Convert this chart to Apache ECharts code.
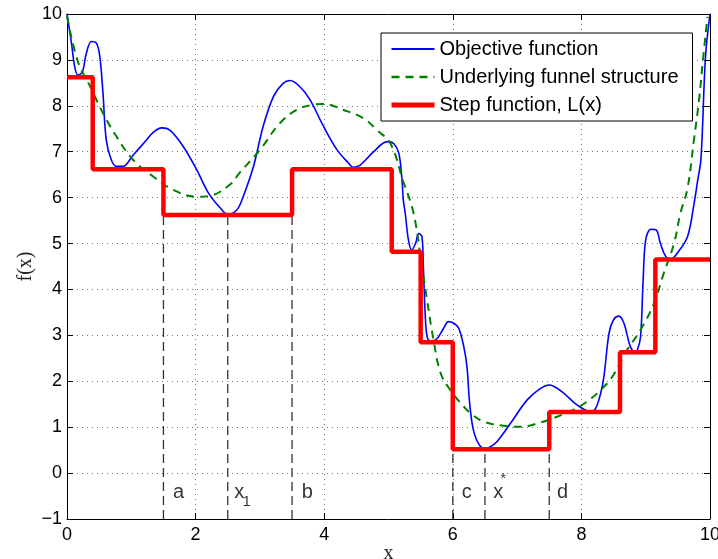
<!DOCTYPE html>
<html><head><meta charset="utf-8">
<script src="https://cdn.jsdelivr.net/npm/echarts@6/dist/echarts.min.js"></script>
<style>html,body{margin:0;padding:0;background:#fff}#c{width:718px;height:559px}</style>
</head><body><div id="c"></div><script>
// Objective function (blue)
const objX = [0.00,0.07,0.12,0.17,0.24,0.30,0.38,0.46,0.51,0.56,0.61,0.69,0.77,0.87,1.03,1.24,1.34,1.47,1.60,1.81,2.02,2.20,2.38,2.50,2.64,2.72,2.90,3.05,3.21,3.36,3.47,3.62,3.78,3.99,4.20,4.38,4.45,4.56,4.77,4.98,5.08,5.16,5.21,5.23,5.26,5.31,5.36,5.42,5.47,5.52,5.54,5.57,5.60,5.65,5.75,5.86,5.93,6.01,6.09,6.17,6.22,6.26,6.31,6.37,6.45,6.50,6.58,6.69,6.90,7.16,7.37,7.50,7.69,7.90,8.05,8.13,8.21,8.30,8.35,8.43,8.50,8.58,8.66,8.76,8.83,8.87,8.92,8.96,9.00,9.08,9.16,9.23,9.31,9.39,9.49,9.65,9.75,9.81,9.86,9.93,10.0];
const objY = [10.0,9.36,8.85,8.67,8.74,9.14,9.40,9.36,9.07,8.27,7.26,6.82,6.68,6.68,6.93,7.26,7.42,7.52,7.47,7.11,6.60,6.10,5.78,5.63,5.73,5.95,6.68,7.55,8.20,8.49,8.55,8.42,8.13,7.55,7.04,6.75,6.66,6.71,7.00,7.22,7.18,6.97,6.39,5.95,5.66,5.08,4.86,5.00,5.22,5.15,4.57,3.48,2.97,2.88,2.92,3.16,3.30,3.27,3.16,2.76,2.32,1.55,1.00,0.72,0.55,0.53,0.57,0.69,1.09,1.60,1.85,1.92,1.78,1.52,1.38,1.35,1.38,1.74,2.10,3.05,3.34,3.42,3.27,2.76,2.65,2.68,2.97,4.19,5.08,5.31,5.30,5.00,4.72,4.66,4.79,5.15,5.85,6.39,6.85,9.07,10.0];
// Underlying funnel structure (green dashed)
const funX = [0.00,0.17,0.35,0.56,0.77,1.03,1.34,1.65,2.02,2.22,2.53,2.69,3.00,3.31,3.57,3.81,3.99,4.30,4.61,4.82,5.03,5.23,5.39,5.52,5.60,5.70,5.81,5.96,6.17,6.27,6.48,6.79,7.05,7.36,7.57,7.88,8.09,8.30,8.48,8.71,8.92,9.13,9.28,9.44,9.54,9.65,9.75,9.83,9.88,9.96];
const funY = [9.95,8.96,8.45,7.84,7.33,6.82,6.46,6.17,6.02,6.04,6.28,6.55,7.04,7.62,7.91,8.02,8.04,7.91,7.73,7.47,7.18,6.35,5.66,4.50,3.77,2.90,2.18,1.81,1.45,1.31,1.12,1.03,1.01,1.10,1.20,1.38,1.56,1.81,2.10,2.68,3.12,3.70,4.35,5.00,5.66,6.20,7.26,8.13,8.85,9.94];
// Step function L(x): level i holds from stepX[i] to stepX[i+1]
const stepX = [0,0.4,1.5,3.5,5.05,5.5,6.0,7.5,8.6,9.15,10];
const stepY = [8.62,6.62,5.62,6.62,4.82,2.85,0.52,1.33,2.63,4.65];
// Vertical dashed markers
const vX = [1.5,2.5,3.5,6.0,6.5,7.5];
const vTop = [5.62,5.62,5.62,0.52,0.52,0.52];
const vBottom = -1;
// Annotation labels
const labX = [1.65,2.6,3.65,6.14,6.63,7.62];
const labY = [-0.42,-0.42,-0.42,-0.42,-0.42,-0.42];
const labText = ['a','x','b','c','x','d'];
const subX = [2.73], subY = [-0.62], subText = ['1'];
const supX = [6.74], supY = [-0.14], supText = ['*'];
const xTicks = [0,2,4,6,8,10];
const yTicks = [-1,0,1,2,3,4,5,6,7,8,9,10];

const FONT = "'Liberation Sans', Arial, sans-serif";
const zip = (a,b) => a.map((v,i)=>[v,b[i]]);
const stepData = stepY.map((y,i)=>[stepX[i],y]).concat([[stepX[stepX.length-1], stepY[stepY.length-1]]]);

const series = [];
vX.forEach((x,i)=>{
  series.push({type:'line', name:'v'+i, silent:true, symbol:'none', z:1,
    data:[[x,vBottom],[x,vTop[i]]],
    lineStyle:{color:'#333', width:1.3, type:[9,5]}});
});
series.push({type:'line', name:'Objective function', data:zip(objX,objY), symbol:'none', smooth:0.35,
  lineStyle:{color:'#0000ff', width:1.6}, itemStyle:{color:'#0000ff'}, z:3});
series.push({type:'line', name:'Underlying funnel structure', data:zip(funX,funY), symbol:'none', smooth:0.4,
  lineStyle:{color:'#008000', width:2, type:[8,6]}, itemStyle:{color:'#008000'}, z:3});
series.push({type:'line', name:'Step function, L(x)', data:stepData, step:'end', symbol:'none',
  lineStyle:{color:'#ff0000', width:4.5}, itemStyle:{color:'#ff0000'}, z:4});
series.push({type:'scatter', name:'labels', silent:true, symbolSize:0, z:5,
  data:labText.map((t,i)=>({value:[labX[i],labY[i]], name:t})),
  label:{show:true, position:'inside', align:'left', verticalAlign:'middle', formatter:p=>p.name,
    fontSize:20, fontFamily:FONT, color:'#000'}});
series.push({type:'scatter', name:'subs', silent:true, symbolSize:0, z:5,
  data:subText.map((t,i)=>({value:[subX[i],subY[i]], name:t})),
  label:{show:true, position:'inside', align:'left', verticalAlign:'middle', formatter:p=>p.name,
    fontSize:15, fontFamily:FONT, color:'#000'}});
series.push({type:'scatter', name:'sups', silent:true, symbolSize:0, z:5,
  data:supText.map((t,i)=>({value:[supX[i],supY[i]], name:t})),
  label:{show:true, position:'inside', align:'left', verticalAlign:'middle', formatter:p=>p.name,
    fontSize:14, fontFamily:FONT, color:'#000'}});

const gridLine = {show:true, lineStyle:{color:'#777', width:1, type:[1,4]}};
const chart = echarts.init(document.getElementById('c'), null, {renderer:'canvas'});
chart.setOption({
  animation:false,
  backgroundColor:'#fff',
  grid:{left:67, right:8, top:14, bottom:40, containLabel:false, outerBoundsMode:'none'},
  legend:{orient:'vertical', left:381, top:33, padding:[6,14,6,8], itemWidth:43, itemHeight:14, itemGap:8,
    backgroundColor:'#fff', borderColor:'#000', borderWidth:1, borderRadius:0,
    itemStyle:{opacity:0},
    textStyle:{fontSize:20, fontFamily:FONT, color:'#000', lineHeight:20},
    data:[
      {name:'Objective function', lineStyle:{width:2}},
      {name:'Underlying funnel structure', lineStyle:{width:2.5, type:[8,6]}},
      {name:'Step function, L(x)', lineStyle:{width:5}}
    ]},
  xAxis:[
    {type:'value', min:xTicks[0], max:xTicks[xTicks.length-1], interval:2, position:'bottom',
     name:'x', nameLocation:'middle', nameGap:25, nameMoveOverlap:false,
     nameTextStyle:{fontSize:20, fontFamily:"'Liberation Serif', serif", color:'#222', verticalAlign:'top'},
     axisLine:{show:true, onZero:false, lineStyle:{color:'#000', width:1}},
     axisTick:{show:true, inside:true, length:6, lineStyle:{color:'#000'}},
     axisLabel:{fontSize:18, fontFamily:FONT, color:'#000', margin:7},
     splitLine:gridLine},
    {type:'value', min:0, max:10, interval:2, position:'top',
     axisLine:{show:true, onZero:false, lineStyle:{color:'#000', width:1}},
     axisTick:{show:true, inside:true, length:6, lineStyle:{color:'#000'}},
     axisLabel:{show:false}, splitLine:{show:false}}
  ],
  yAxis:[
    {type:'value', min:yTicks[0], max:yTicks[yTicks.length-1], interval:1, position:'left',
     name:'f(x)', nameLocation:'middle', nameGap:31, nameRotate:90, nameMoveOverlap:false,
     nameTextStyle:{fontSize:20, fontFamily:"'Liberation Serif', serif", color:'#222'},
     axisLine:{show:true, onZero:false, lineStyle:{color:'#000', width:1}},
     axisTick:{show:true, inside:true, length:6, lineStyle:{color:'#000'}},
     axisLabel:{fontSize:18, fontFamily:FONT, color:'#000', margin:5,
       formatter:v=> v<0 ? '\u2212'+Math.abs(v) : String(v)},
     splitLine:gridLine},
    {type:'value', min:-1, max:10, interval:1, position:'right',
     axisLine:{show:true, onZero:false, lineStyle:{color:'#000', width:1}},
     axisTick:{show:true, inside:true, length:6, lineStyle:{color:'#000'}},
     axisLabel:{show:false}, splitLine:{show:false}}
  ],
  series:series
});
</script></body></html>
